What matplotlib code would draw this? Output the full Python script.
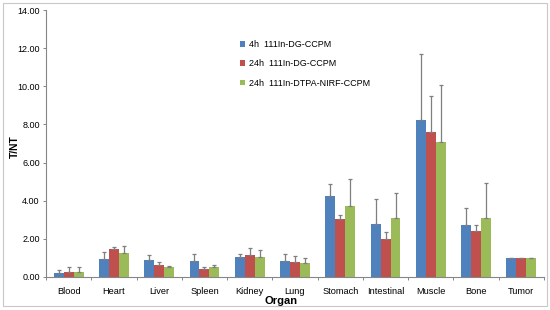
import matplotlib
matplotlib.use('Agg')
import matplotlib.pyplot as plt
from matplotlib.patches import Rectangle
import numpy as np

plt.rcParams['font.family'] = ['Liberation Sans', 'DejaVu Sans']

organs = ['Blood', 'Heart', 'Liver', 'Spleen', 'Kidney', 'Lung',
          'Stomach', 'Intestinal', 'Muscle', 'Bone', 'Tumor']
series_names = ['4h  111In-DG-CCPM', '24h  111In-DG-CCPM', '24h  111In-DTPA-NIRF-CCPM']

dg_4h = [0.19, 0.96, 0.87, 0.82, 1.03, 0.84, 4.23, 2.78, 8.25, 2.71, 1.00]
dg_4h_err = [0.20, 0.34, 0.28, 0.37, 0.16, 0.38, 0.65, 1.31, 3.43, 0.89, 0.01]
dg_24h = [0.28, 1.47, 0.61, 0.42, 1.15, 0.79, 3.04, 1.98, 7.62, 2.43, 1.00]
dg_24h_err = [0.26, 0.12, 0.18, 0.10, 0.35, 0.29, 0.21, 0.36, 1.86, 0.28, 0.01]
nirf_24h = [0.25, 1.26, 0.51, 0.52, 1.05, 0.73, 3.72, 3.08, 7.06, 3.08, 1.00]
nirf_24h_err = [0.26, 0.35, 0.08, 0.11, 0.35, 0.25, 1.40, 1.31, 2.99, 1.83, 0.01]

colors = ['#4F81BD', '#C0504D', '#9BBB59']
axis_gray = '#868686'

fig = plt.figure(figsize=(5.5, 3.1), dpi=100)
fig.patches.append(Rectangle((0.005, 0.012), 0.99, 0.978, transform=fig.transFigure,
                             fill=False, edgecolor='#C8C8C8', linewidth=0.8))
ax = fig.add_axes([0.0836, 0.1065, 0.9055, 0.8612])

x = np.arange(len(organs))
w = 0.22
data = [(dg_4h, dg_4h_err), (dg_24h, dg_24h_err), (nirf_24h, nirf_24h_err)]
for i, (vals, errs) in enumerate(data):
    pos = x + (i - 1) * w
    ax.bar(pos, vals, width=w, color=colors[i], label=series_names[i], zorder=2)
    ax.errorbar(pos, vals, yerr=[np.zeros(len(vals)), errs], fmt='none',
                ecolor='#7F7F7F', elinewidth=0.9, capsize=1.6, capthick=0.9, zorder=3)

ax.set_xlim(-0.5, len(organs) - 0.5)
ax.set_ylim(0, 14)
ax.set_yticks(np.arange(0, 14.01, 2))
ax.set_yticklabels(['%.2f' % v for v in np.arange(0, 14.01, 2)], fontsize=6.5)
ax.set_xticks(x)
ax.set_xticklabels(organs, fontsize=6.7)
ax.set_xticks(np.arange(-0.5, len(organs), 1), minor=True)
ax.tick_params(axis='x', which='major', length=0, pad=7)
ax.tick_params(axis='x', which='minor', length=2.5, color=axis_gray, width=0.7)
ax.tick_params(axis='y', length=2.5, color=axis_gray, width=0.7, pad=2)

for s in ['top', 'right']:
    ax.spines[s].set_visible(False)
for s in ['left', 'bottom']:
    ax.spines[s].set_color(axis_gray)
    ax.spines[s].set_linewidth(0.8)

ax.set_xlabel('Organ', fontsize=8, fontweight='bold', va='center')
ax.xaxis.set_label_coords(0.472, -0.09)
ax.set_ylabel('T/NT', fontsize=7.4, fontweight='bold', va='center')
ax.yaxis.set_label_coords(-0.063, 0.49)

ax.legend(loc='upper left', bbox_to_anchor=(240 / 550, 1 - 40 / 310),
          bbox_transform=fig.transFigure, frameon=False, fontsize=6.5,
          handlelength=0.6, handleheight=0.6, handletextpad=0.4,
          labelspacing=1.15, borderpad=0, borderaxespad=0)

fig.savefig('out.png', dpi=100)
